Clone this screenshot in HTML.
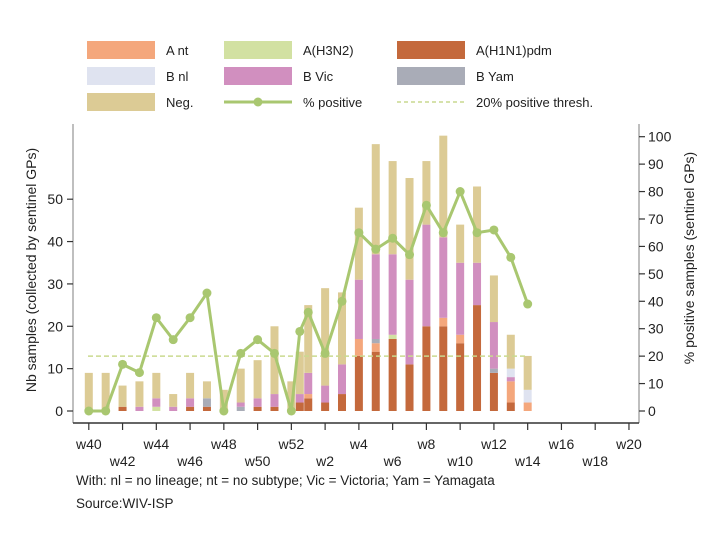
<!DOCTYPE html>
<html><head><meta charset="utf-8"><style>
body{margin:0;background:#fff;}
svg{display:block;font-family:"Liberation Sans",sans-serif;}
</style></head><body>
<svg id="chart" width="720" height="540">
 <g id="legend"></g>
 <g id="bars"></g>
 <g id="axes"></g>
 <g id="line"></g>
 <text x="36" y="270" transform="rotate(-90 36 270)" text-anchor="middle" font-size="14" fill="#222">Nb samples (collected by sentinel GPs)</text>
 <text x="694" y="258" transform="rotate(-90 694 258)" text-anchor="middle" font-size="14" fill="#222">% positive samples (sentinel GPs)</text>
 <text x="76" y="485" font-size="13.5" fill="#222">With: nl = no lineage; nt = no subtype; Vic = Victoria; Yam = Yamagata</text>
 <text x="76" y="508" font-size="13.5" fill="#222">Source:WIV-ISP</text>
</svg>
<script>
const weekIndex = [0,1,2,3,4,5,6,7,8,9,10,11,12,12.5,13,14,15,16,17,18,19,20,21,22,23,24,25,26];
const weekNames = ["w40","w41","w42","w43","w44","w45","w46","w47","w48","w49","w50","w51","w52","w53","w1","w2","w3","w4","w5","w6","w7","w8","w9","w10","w11","w12","w13","w14"];
const h1n1  = [0,0,1,0,0,0,1,1,0,0,1,1,0,2,3,2,4,13,14,17,11,20,20,16,25,9,2,0];
const ant   = [0,0,0,0,0,0,0,0,0,0,0,0,0,0,1,0,0,4,2,0,0,0,2,2,0,0,5,2];
const h3n2  = [0,0,0,0,1,0,0,0,0,0,0,0,0,0,0,0,0,0,0,1,0,0,0,0,0,0,0,0];
const byam  = [0,0,0,0,0,0,0,2,0,1,0,0,0,0,0,0,0,0,1,0,0,0,0,0,0,1,0,0];
const bvic  = [0,0,0,1,2,1,2,0,0,1,2,3,0,2,5,4,7,14,20,19,20,24,19,17,10,11,1,0];
const bnl   = [0,0,0,0,0,0,0,0,0,0,0,0,0,0,0,0,0,0,0,0,0,0,0,0,0,0,2,3];
const neg   = [9,9,5,6,6,3,6,4,5,8,9,16,7,10,16,23,17,17,26,22,24,15,24,9,18,11,8,8];
const pctPositive = [0,0,17,14,34,26,34,43,0,21,26,21,0,29,36,21,40,65,59,63,57,75,65,80,65,66,56,39];
const leftTicks = [0,10,20,30,40,50];
const rightTicks = [0,10,20,30,40,50,60,70,80,90,100];
const xTickLabels = ["w40","w42","w44","w46","w48","w50","w52","w2","w4","w6","w8","w10","w12","w14","w16","w18","w20"];
const xTickIndex = [0,2,4,6,8,10,12,14,16,18,20,22,24,26,28,30,32];
const threshold = 20;

const NS="http://www.w3.org/2000/svg";
const x0=88.8, xStep=16.88, yBase=411, yL=4.236, yR=2.743;
const xs=i=>x0+i*xStep, yl=v=>yBase-v*yL, yr=v=>yBase-v*yR;
function mk(tag,attrs,parent){const e=document.createElementNS(NS,tag);for(const k in attrs)e.setAttribute(k,attrs[k]);parent.appendChild(e);return e;}
const C={h1n1:"#c4693c",ant:"#f4a77c",h3n2:"#d2e1a2",byam:"#a9acb7",bvic:"#d18fbf",bnl:"#dfe3f0",neg:"#dccb95",line:"#a9c770"};

// legend
const leg=document.getElementById('legend');
const legItems=[["A nt","ant",87,41],["A(H3N2)","h3n2",224,41],["A(H1N1)pdm","h1n1",397,41],["B nl","bnl",87,67],["B Vic","bvic",224,67],["B Yam","byam",397,67],["Neg.","neg",87,93]];
legItems.forEach(it=>{
 const r=mk('rect',{x:it[2],y:it[3],width:68,height:18,fill:C[it[1]]},leg);
 
 
 const t=mk('text',{x:it[2]+79,y:it[3]+14,'font-size':13,fill:'#222'},leg);t.textContent=it[0];
 
 
});
mk('line',{x1:224,y1:102,x2:292,y2:102,stroke:C.line,'stroke-width':3},leg);
mk('circle',{cx:258,cy:102,r:4.5,fill:C.line},leg);
let t=mk('text',{x:303,y:107,'font-size':13,fill:'#222'},leg);t.textContent="% positive";


mk('line',{x1:397,y1:102,x2:465,y2:102,stroke:"#c9d98f",'stroke-width':1.5,'stroke-dasharray':'4 3'},leg);
t=mk('text',{x:476,y:107,'font-size':13,fill:'#222'},leg);t.textContent="20% positive thresh.";



// bars
const bars=document.getElementById('bars');
const stack=[["h1n1",h1n1],["ant",ant],["h3n2",h3n2],["byam",byam],["bvic",bvic],["bnl",bnl],["neg",neg]];
weekIndex.forEach((wi,i)=>{
 let acc=0;const cx=xs(wi);
 stack.forEach(([k,arr])=>{
  const v=arr[i]; if(!v) return;
  const r=mk('rect',{x:cx-4,y:yl(acc+v),width:8,height:v*yL,fill:C[k]},bars);
  
  
  acc+=v;
 });
});

// threshold
const thr=mk('line',{x1:88,y1:yr(threshold),x2:527,y2:yr(threshold),stroke:"#c9d98f",'stroke-width':1.5,'stroke-dasharray':'5 3'},bars);



// axes
const ax=document.getElementById('axes');
mk('line',{x1:73,y1:124,x2:73,y2:423,stroke:'#aaa','stroke-width':1.5},ax);
mk('line',{x1:639,y1:124,x2:639,y2:423,stroke:'#aaa','stroke-width':1.5},ax);
mk('line',{x1:73,y1:423,x2:639,y2:423,stroke:'#333','stroke-width':1.5},ax);
leftTicks.forEach(v=>{
 mk('line',{x1:67,y1:yl(v),x2:73,y2:yl(v),stroke:'#333','stroke-width':1.2},ax);
 const tt=mk('text',{x:63,y:yl(v)+5,'font-size':14,'text-anchor':'end',fill:'#222'},ax);tt.textContent=v;
 
 
});
rightTicks.forEach(v=>{
 mk('line',{x1:639,y1:yr(v),x2:645,y2:yr(v),stroke:'#333','stroke-width':1.2},ax);
 const tt=mk('text',{x:648,y:yr(v)+5,'font-size':14,fill:'#222'},ax);tt.textContent=v;
 
 
});
xTickIndex.forEach((wi,i)=>{
 mk('line',{x1:xs(wi),y1:423,x2:xs(wi),y2:430,stroke:'#333','stroke-width':1.2},ax);
 const tt=mk('text',{x:xs(wi),y:(i%2===0)?449:466,'font-size':14,'text-anchor':'middle',fill:'#222'},ax);tt.textContent=xTickLabels[i];
 
 
});

// line
const ln=document.getElementById('line');
const pts=weekIndex.map((wi,i)=>xs(wi)+','+yr(pctPositive[i])).join(' ');
const pl=mk('polyline',{points:pts,fill:'none',stroke:C.line,'stroke-width':3,'stroke-linejoin':'round'},ln);


weekIndex.forEach((wi,i)=>{
 const c=mk('circle',{cx:xs(wi),cy:yr(pctPositive[i]),r:4.5,fill:C.line},ln);
 
 
});
</script>
</body></html>
